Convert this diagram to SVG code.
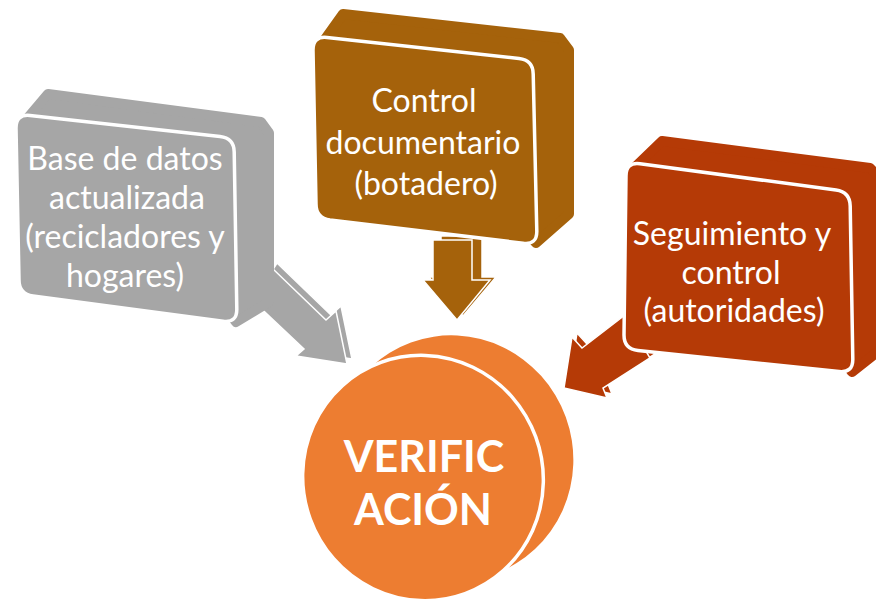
<svg xmlns="http://www.w3.org/2000/svg" width="876" height="603" viewBox="0 0 876 603">
<style>
.t{font-family:Lato,"Open Sans","Liberation Sans",sans-serif;fill:#fff;font-size:32px;text-anchor:middle}
.b{font-family:Lato,"Open Sans","Liberation Sans",sans-serif;fill:#fff;font-size:43px;font-weight:bold;text-anchor:middle}
.face{stroke:#fff;stroke-width:3.5;stroke-linejoin:round}
.hull{stroke-width:10;stroke-linejoin:round}
.gray{fill:#A6A6A6;stroke:#A6A6A6}
.brown{fill:#A5620B;stroke:#A5620B}
.red{fill:#B53A06;stroke:#B53A06}
.arr{stroke:#fff;stroke-width:1.5;stroke-linejoin:miter}
</style>
<rect width="876" height="603" fill="#fff"/>
<g id="node-verificacion">
  <ellipse cx="453" cy="458" rx="120" ry="123" transform="rotate(-20 453 458)" fill="#ED7D31"/>
  <polygon points="356,377 386,357 520,559 490,579" fill="#ED7D31"/>
  <ellipse class="face" cx="423" cy="478" rx="120" ry="123" transform="rotate(-20 423 478)" fill="#ED7D31"/>
  <text class="b" x="424" y="472">VERIFIC</text>
  <text class="b" x="423" y="525">ACIÓN</text>
</g>
<g id="connectors">
  <g id="arrow-gray">
    <polygon class="arr" fill="#A6A6A6" points="277,263 331,315 341,306 352,359 301,351 309,344 257,295"/>
    <polygon class="arr" fill="#A6A6A6" points="272,268 326,320 336,311 347,364 296,356 304,349 252,300"/>
  </g>
  <g id="arrow-brown">
    <polygon class="arr" fill="#A5620B" points="441,236 482,236 482,277 496,277 463,316 429,277 441,277"/>
    <polygon class="arr" fill="#A5620B" points="433,240 472,240 472,280 490,280 457,320 423,280 433,280"/>
  </g>
  <g id="arrow-red">
    <polygon class="arr" fill="#B53A06" points="630,311 587,344 577,333 569,384 612,394 608,384 655,354"/>
    <polygon class="arr" fill="#B53A06" points="625,315 582,348 572,337 564,388 607,398 603,388 650,358"/>
  </g>
</g>
<g id="node-base-datos">
  <polygon class="hull gray" points="48,94 261,122 269,133 269,302 236,322 230,314 27,288 26,120"/>
  <path class="face" fill="#A6A6A6" d="M 16,128 Q 16,114 30,115.5 L 220,136.5 Q 234,138 234.2,152 L 236.8,309 Q 237,323 223,321.2 L 33,296 Q 19,294 19,280 Z"/>
  <text class="t" x="125" y="170">Base de datos</text>
  <text class="t" x="127" y="209">actualizada</text>
  <text class="t" x="125" y="248">(recicladores y</text>
  <text class="t" x="125" y="287">hogares)</text>
</g>
<g id="node-control-documentario">
  <polygon class="hull brown" points="343,14 560,38 569,50 569,214 536,243 530,236 324,211 323,42"/>
  <path class="face" fill="#A5620B" d="M 313,50 Q 313,36 327,37.5 L 519,58.5 Q 533,60 533.2,74 L 536.8,231 Q 537,245 523,243.2 L 330,220 Q 316,218 316,204 Z"/>
  <text class="t" x="424" y="112">Control</text>
  <text class="t" x="423" y="154">documentario</text>
  <text class="t" x="426" y="195">(botadero)</text>
</g>
<g id="node-seguimiento">
  <polygon class="hull red" points="662,141 870,168 880,178 880,350 852,372 846,364 632,342 634,168"/>
  <path class="face" fill="#B53A06" d="M 626,176 Q 626,162 640,163.8 L 836,190 Q 850,192 850.2,206 L 852.8,359 Q 853,373 839,371.5 L 638,350.5 Q 624,349 624,335 Z"/>
  <text class="t" x="732" y="245">Seguimiento y</text>
  <text class="t" x="731" y="284">control</text>
  <text class="t" x="734" y="322">(autoridades)</text>
</g>
</svg>
